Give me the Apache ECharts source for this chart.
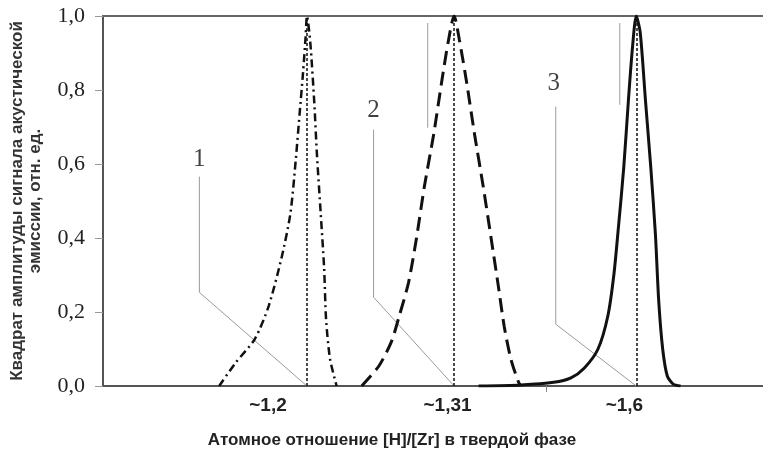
<!DOCTYPE html>
<html>
<head>
<meta charset="utf-8">
<script src="https://cdn.jsdelivr.net/npm/echarts@6/dist/echarts.min.js"></script>
<style>
  html, body { margin: 0; padding: 0; background: #fff; }
  #chart { width: 763px; height: 454px; }
</style>
</head>
<body>
<div id="chart"></div>
<script>
// x is a schematic position along the axis (0..10), y is the normalised signal
const curve1 = [
  [1.76, 0], [2.01, 0.063], [2.30, 0.127], [2.51, 0.216], [2.71, 0.35], [2.84, 0.467],
  [2.92, 0.61], [2.98, 0.738], [3.03, 0.845], [3.07, 0.944], [3.09, 1.0],
  [3.14, 0.93], [3.20, 0.77], [3.24, 0.63], [3.29, 0.49], [3.35, 0.32], [3.38, 0.18],
  [3.44, 0.073], [3.54, 0]
];
const curve2 = [
  [3.92, 0], [4.18, 0.054], [4.37, 0.12], [4.49, 0.19], [4.63, 0.28], [4.75, 0.40],
  [4.87, 0.54], [5.01, 0.68], [5.13, 0.82], [5.23, 0.93], [5.32, 1.0], [5.40, 0.935],
  [5.51, 0.82], [5.63, 0.68], [5.76, 0.54], [5.88, 0.40], [5.99, 0.27], [6.08, 0.16],
  [6.18, 0.073], [6.29, 0.013], [6.33, 0]
];
const curve3 = [
  [5.69, 0], [6.33, 0.003], [6.83, 0.01], [7.09, 0.022], [7.29, 0.048], [7.50, 0.10],
  [7.65, 0.19], [7.74, 0.30], [7.81, 0.43], [7.89, 0.59], [7.96, 0.77], [8.02, 0.91],
  [8.08, 1.0], [8.14, 0.955], [8.22, 0.77], [8.30, 0.59], [8.37, 0.41], [8.42, 0.23],
  [8.48, 0.10], [8.55, 0.027], [8.64, 0.005], [8.75, 0]
];
const peaks = [3.09, 5.32, 8.08];

// callout leaders: vertical stroke then slanted to the peak foot
const leader1 = [[1.46, 0.566], [1.46, 0.253], [3.09, 0]];
const leader2 = [[4.10, 0.693], [4.10, 0.240], [5.32, 0]];
const leader3 = [[6.86, 0.755], [6.86, 0.167], [8.08, 0]];
const calloutPos = [[1.46, 0.612], [4.10, 0.744], [6.83, 0.817]];
const calloutText = ['1', '2', '3'];
// faint leftover strokes in the figure
const stray1 = [[4.92, 0.981], [4.92, 0.698]];
const stray2 = [[7.83, 0.981], [7.83, 0.760]];

const xLabelPos = [2.50, 5.22, 7.90];
const xLabelText = ['~1,2', '~1,31', '~1,6'];
const xTickPos = [6.71];

const chart = echarts.init(document.getElementById('chart'));

function curve(data, dash, width) {
  return {
    type: 'line', data: data, smooth: 0.25, showSymbol: false, symbol: 'none',
    lineStyle: { color: '#111', width: width, type: dash }, z: 5
  };
}
function thin(data) {
  return {
    type: 'line', data: data, showSymbol: false, symbol: 'none', silent: true,
    lineStyle: { color: '#9a9a9a', width: 1 }, z: 2
  };
}

chart.setOption({
  animation: false,
  grid: { left: 101, right: 0, top: 16, bottom: 67 },
  xAxis: [{
    type: 'value', min: 0, max: 10,
    name: 'Атомное отношение [H]/[Zr] в твердой фазе',
    nameLocation: 'middle', nameGap: 46,
    nameTextStyle: {
      fontFamily: 'Liberation Sans', fontWeight: 'bold', fontSize: 17, color: '#222',
      padding: [0, 82, 0, 0]
    },
    axisLine: { lineStyle: { color: '#555', width: 2 } },
    axisTick: { show: true, customValues: xTickPos, length: 6, lineStyle: { color: '#888' } },
    axisLabel: {
      customValues: xLabelPos, margin: 10,
      fontFamily: 'Liberation Sans', fontWeight: 'bold', fontSize: 19, color: '#222',
      formatter: (v) => xLabelText[xLabelPos.indexOf(v)] || ''
    },
    splitLine: { show: false }
  }, {
    type: 'value', min: 0, max: 10, position: 'top',
    axisLine: { show: true, lineStyle: { color: '#666', width: 2 } },
    axisTick: { show: false }, axisLabel: { show: false }, splitLine: { show: false }
  }],
  yAxis: {
    type: 'value', min: 0, max: 1, interval: 0.2,
    name: 'Квадрат амплитуды сигнала акустической\nэмиссии, отн. ед.',
    nameLocation: 'middle', nameRotate: 90, nameGap: 59,
    nameTextStyle: { fontFamily: 'Liberation Sans', fontWeight: 'bold', fontSize: 17, color: '#333', lineHeight: 18 },
    axisLine: { show: true, lineStyle: { color: '#555', width: 2 } },
    axisTick: { show: true, length: 8, lineStyle: { color: '#999' } },
    axisLabel: {
      margin: 18, fontFamily: 'Liberation Serif', fontSize: 22, color: '#222',
      formatter: (v) => v.toFixed(1).replace('.', ',')
    },
    splitLine: { show: false }
  },
  series: [
    thin(leader1), thin(leader2), thin(leader3), thin(stray1), thin(stray2),
    curve(curve1, [8, 4, 2, 4], 2.5),
    curve(curve2, [14, 7], 3),
    curve(curve3, 'solid', 3),
    {
      type: 'line', data: [], silent: true,
      markLine: {
        symbol: 'none', silent: true, label: { show: false },
        lineStyle: { color: '#111', width: 1.5, type: [3, 2] },
        data: peaks.map(p => ({ xAxis: p }))
      }
    },
    {
      type: 'scatter', symbolSize: 0, silent: true,
      data: calloutPos.map((p, i) => ({ value: p, name: calloutText[i] })),
      label: {
        show: true, position: 'inside', formatter: (p) => p.name,
        fontFamily: 'Liberation Serif', fontSize: 25, color: '#111'
      }
    }
  ]
});
</script>
</body>
</html>
